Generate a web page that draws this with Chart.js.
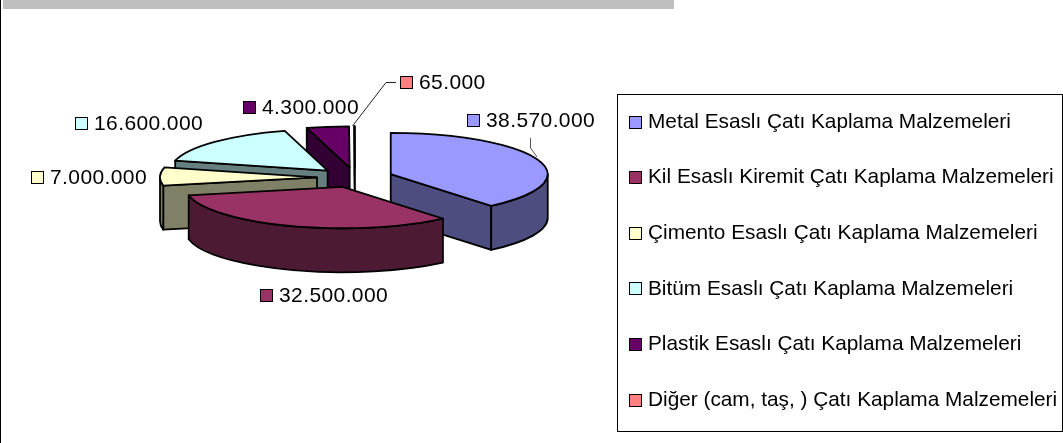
<!DOCTYPE html>
<html>
<head>
<meta charset="utf-8">
<style>
  html, body { margin: 0; padding: 0; background: #fff; overflow: hidden; }
  canvas { display: block; }
</style>
<script src="https://cdn.jsdelivr.net/npm/chart.js@4/dist/chart.umd.js"></script>
</head>
<body>
<canvas id="chartPie" width="1063" height="443"></canvas>
<script>
var categories = [
  "Metal Esaslı Çatı Kaplama Malzemeleri",
  "Kil Esaslı Kiremit Çatı Kaplama Malzemeleri",
  "Çimento Esaslı Çatı Kaplama Malzemeleri",
  "Bitüm Esaslı Çatı Kaplama Malzemeleri",
  "Plastik Esaslı Çatı Kaplama Malzemeleri",
  "Diğer (cam, taş, ) Çatı Kaplama Malzemeleri"
];
var values = [38570000, 32500000, 7000000, 16600000, 4300000, 65000];
var topColors = ["#9999FF", "#993366", "#FFFFCC", "#CCFFFF", "#660066", "#FF8080"];
var sideColors = ["#4D4D80", "#4D1A33", "#808066", "#668080", "#330033", "#804040"];

// where the value labels sit: swatch left edge, swatch centre y
var labelSpots = [[467, 120], [260, 295], [31, 177], [75, 123], [243, 107], [400, 82]];
var drawOrder = [5, 4, 3, 2, 0, 1]; // back to front

var FLAT = 0.263, DEPTH = 44, EXPLODE = 38;
var LABEL_FONT = '21px "Liberation Sans"';
var LEGEND_SIZE = 20.8, LEGEND_ROW = 55.6;
var LEGEND_PAD = LEGEND_ROW - LEGEND_SIZE;

function dotted(v) {
  return String(v).replace(/\B(?=(\d{3})+$)/g, ".");
}

function swatch(ctx, x, y, size, color) {
  ctx.fillStyle = color;
  ctx.strokeStyle = "#000";
  ctx.lineWidth = 1;
  ctx.fillRect(x + 0.5, y + 0.5, size, size);
  ctx.strokeRect(x + 0.5, y + 0.5, size, size);
}

var pie3d = {
  id: "pie3d",
  afterLayout: function(chart) {
    // pie centre sits left of the legend box, legend box is placed by hand
    chart.chartArea = { left: 0, top: 0, right: 710, bottom: 355, width: 710, height: 355 };
    var lg = chart.legend;
    lg.left = 648 - LEGEND_PAD - LEGEND_SIZE / 2;
    lg.top = 122 - LEGEND_PAD - LEGEND_SIZE / 2;
    lg.right = 1063;
    lg.bottom = 560;
  },
  beforeDraw: function(chart) {
    var ctx = chart.ctx;
    ctx.save();
    ctx.fillStyle = "#BFBFBF";
    ctx.fillRect(3, 0, 671, 9);
    ctx.fillStyle = "#000";
    ctx.fillRect(0, 0, 1, 443);
    // legend frame
    ctx.strokeStyle = "#000";
    ctx.lineWidth = 1;
    ctx.strokeRect(617.5, 94.5, 445, 337);
    ctx.restore();
  },
  beforeDatasetsDraw: function(chart) {
    var ctx = chart.ctx;
    var arcs = chart.getDatasetMeta(0).data;
    drawOrder.forEach(function(i) {
      var el = arcs[i];
      var start = el.startAngle, end = el.endAngle, r = el.outerRadius;
      var mid = (start + end) / 2;
      var cx = el.x + Math.cos(mid) * EXPLODE;
      var cy = el.y + Math.sin(mid) * EXPLODE * FLAT;
      var rb = r * FLAT;
      ctx.save();
      ctx.strokeStyle = "#000";
      ctx.lineWidth = 1.8;
      ctx.lineJoin = "round";
      ctx.fillStyle = sideColors[i];

      // cut faces that look toward the viewer
      [[start, start - Math.PI / 2], [end, end + Math.PI / 2]].forEach(function(f) {
        if (Math.sin(f[1]) <= 0) return;
        var ex = cx + Math.cos(f[0]) * r, ey = cy + Math.sin(f[0]) * rb;
        ctx.beginPath();
        ctx.moveTo(cx, cy);
        ctx.lineTo(ex, ey);
        ctx.lineTo(ex, ey + DEPTH);
        ctx.lineTo(cx, cy + DEPTH);
        ctx.closePath();
        ctx.fill();
        ctx.stroke();
      });

      // front part of the rim
      var a0 = Math.max(start, 0), a1 = Math.min(end, Math.PI);
      if (a1 > a0) {
        ctx.beginPath();
        ctx.ellipse(cx, cy, r, rb, 0, a0, a1);
        ctx.ellipse(cx, cy + DEPTH, r, rb, 0, a1, a0, true);
        ctx.closePath();
        ctx.fill();
        ctx.stroke();
      }

      // top face: the library's own arc, flattened
      ctx.save();
      ctx.translate(cx, cy);
      ctx.scale(1, FLAT);
      ctx.translate(-el.x, -el.y);
      el.draw(ctx);
      ctx.restore();

      ctx.beginPath();
      ctx.moveTo(cx, cy);
      ctx.ellipse(cx, cy, r, rb, 0, start, end);
      ctx.closePath();
      ctx.stroke();
      ctx.restore();
    });
    return false;
  },
  afterDraw: function(chart) {
    var ctx = chart.ctx;
    ctx.save();

    // legend swatches
    categories.forEach(function(c, i) {
      swatch(ctx, 629, Math.round(122 + i * LEGEND_ROW - 6.5), 12, topColors[i]);
    });

    // leader lines
    ctx.lineWidth = 1;
    ctx.strokeStyle = "#555";
    ctx.beginPath();
    ctx.moveTo(530.5, 138);
    ctx.lineTo(530.5, 148);
    ctx.lineTo(537, 157);
    ctx.stroke();
    ctx.strokeStyle = "#222";
    ctx.beginPath();
    ctx.moveTo(352.5, 126);
    ctx.lineTo(386, 82.5);
    ctx.lineTo(396, 82.5);
    ctx.stroke();

    // value labels
    ctx.font = LABEL_FONT;
    ctx.letterSpacing = "0.4px";
    ctx.textBaseline = "middle";
    values.forEach(function(v, i) {
      var spot = labelSpots[i];
      swatch(ctx, spot[0], spot[1] - 6, 12, topColors[i]);
      ctx.fillStyle = "#000";
      ctx.fillText(dotted(v), spot[0] + 19, spot[1] + 1);
    });
    ctx.restore();
  }
};

var chartPie = new Chart(document.getElementById("chartPie"), {
  type: "pie",
  data: {
    labels: categories,
    datasets: [{
      data: values,
      backgroundColor: topColors,
      borderWidth: 0
    }]
  },
  plugins: [pie3d],
  options: {
    responsive: false,
    animation: false,
    events: [],
    radius: 157,
    plugins: {
      tooltip: { enabled: false },
      legend: {
        display: true,
        position: "right",
        align: "start",
        labels: {
          color: "#000",
          boxWidth: 0,
          padding: LEGEND_PAD,
          font: { family: '"Liberation Sans"', size: LEGEND_SIZE }
        }
      }
    }
  }
});
</script>
</body>
</html>
